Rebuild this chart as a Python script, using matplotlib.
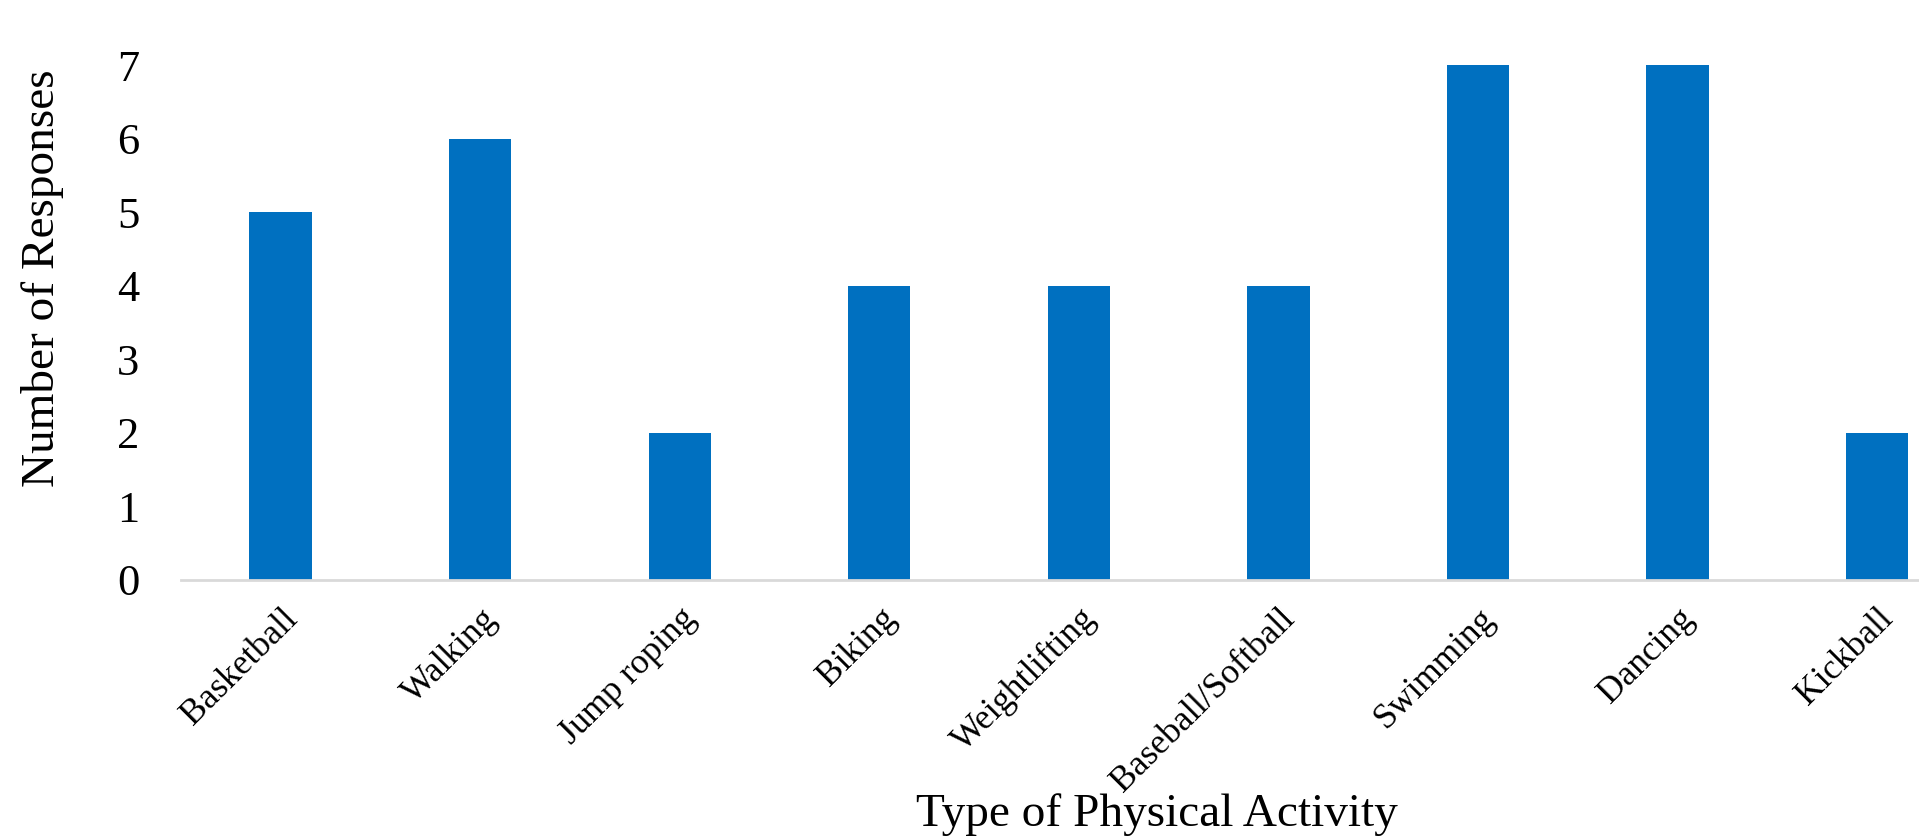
import matplotlib
matplotlib.use("Agg")
import matplotlib.pyplot as plt
from matplotlib import rcParams

rcParams['font.family'] = ['Liberation Serif', 'DejaVu Serif']

activities = ['Basketball', 'Walking', 'Jump roping', 'Biking', 'Weightlifting',
              'Baseball/Softball', 'Swimming', 'Dancing', 'Kickball']
responses = [5, 6, 2, 4, 4, 4, 7, 7, 2]
yticks = [0, 1, 2, 3, 4, 5, 6, 7]

fig = plt.figure(figsize=(19.19, 8.38), dpi=100)
# plot area runs past the right edge, as in the original
ax = fig.add_axes([0.0943, 0.3079, 0.9357, 0.6145])

x = range(len(activities))
ax.bar(x, responses, width=0.313, color='#0070C0')
ax.set_xlim(-0.5, len(activities) - 0.5)
ax.set_ylim(0, 7)
ax.set_yticks(yticks)
ax.set_yticklabels([str(v) for v in yticks], fontsize=32)
ax.set_xticks(list(x))
ax.set_xticklabels(activities, fontsize=25.5, rotation=45, ha='right',
                   rotation_mode='anchor')
ax.tick_params(axis='both', length=0)
ax.tick_params(axis='y', pad=30)
ax.tick_params(axis='x', pad=16)

for side in ['top', 'right', 'left']:
    ax.spines[side].set_visible(False)
ax.spines['bottom'].set_color('#d9d9d9')
ax.spines['bottom'].set_linewidth(2)

fig.text(0.603, 0.002, 'Type of Physical Activity', fontsize=34, ha='center', va='bottom')
fig.text(0.022, 0.668, 'Number of Responses', fontsize=34, rotation=90,
         ha='center', va='center')

fig.savefig('out.png', dpi=100)
